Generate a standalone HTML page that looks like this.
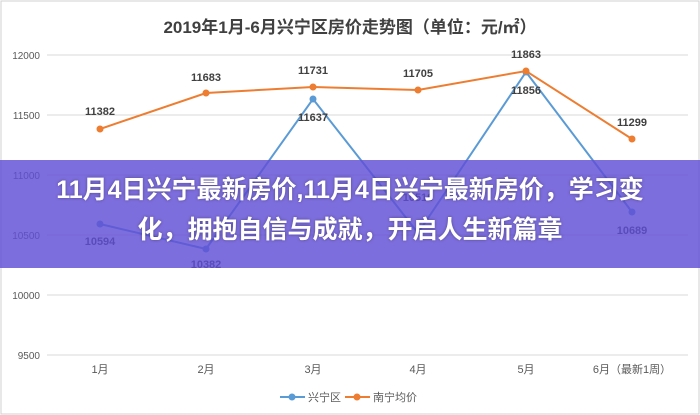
<!DOCTYPE html>
<html><head><meta charset="utf-8"><style>
body{margin:0;width:700px;height:415px;overflow:hidden;background:#fff;font-family:"Liberation Sans","Noto Sans CJK SC",sans-serif;}
.band{position:absolute;left:0;top:160px;width:700px;height:108px;background:rgba(96,78,214,0.82);}
.bt{position:absolute;left:0;top:170px;width:700px;text-align:center;color:#fff;font-weight:bold;font-size:25px;line-height:40px;text-shadow:0 0 3px rgba(0,0,0,.35);white-space:nowrap;}
</style></head><body>
<svg width="700" height="415" style="position:absolute;left:0;top:0" font-family="Liberation Sans,Noto Sans CJK SC,sans-serif">
<rect x="1" y="1" width="698" height="413" fill="#fff" stroke="#d0d0d0"/>
<text x="350" y="33" text-anchor="middle" font-size="17" font-weight="bold" fill="#404040">2019年1月-6月兴宁区房价走势图（单位：元/㎡）</text>
<g stroke="#d9d9d9" stroke-width="1">
<line x1="47" x2="688" y1="55" y2="55"/><line x1="47" x2="688" y1="115" y2="115"/><line x1="47" x2="688" y1="175" y2="175"/><line x1="47" x2="688" y1="235" y2="235"/><line x1="47" x2="688" y1="295" y2="295"/><line x1="47" x2="688" y1="355" y2="355"/>
</g>
<g font-size="10" fill="#595959" text-anchor="end">
<text x="40" y="59">12000</text><text x="40" y="119">11500</text><text x="40" y="179">11000</text><text x="40" y="239">10500</text><text x="40" y="299">10000</text><text x="40" y="359">9500</text>
</g>
<g font-size="11" fill="#595959" text-anchor="middle">
<text x="100" y="373">1月</text><text x="206" y="373">2月</text><text x="313" y="373">3月</text><text x="418" y="373">4月</text><text x="526" y="373">5月</text><text x="632" y="373">6月（最新1周）</text>
</g>
<polyline fill="none" stroke="#5b9bd5" stroke-width="2" points="100,224 206,249 313,99 418,233 526,72 632,212"/>
<g fill="#5b9bd5"><circle cx="100" cy="224" r="3.5"/><circle cx="206" cy="249" r="3.5"/><circle cx="313" cy="99" r="3.5"/><circle cx="418" cy="233" r="3.5"/><circle cx="526" cy="72" r="3.5"/><circle cx="632" cy="212" r="3.5"/></g>
<polyline fill="none" stroke="#ed7d31" stroke-width="2" points="100,129 206,93 313,87 418,90 526,71 632,139"/>
<g fill="#ed7d31"><circle cx="100" cy="129" r="3.5"/><circle cx="206" cy="93" r="3.5"/><circle cx="313" cy="87" r="3.5"/><circle cx="418" cy="90" r="3.5"/><circle cx="526" cy="71" r="3.5"/><circle cx="632" cy="139" r="3.5"/></g>
<g font-size="11" fill="#404040" text-anchor="middle" font-weight="bold">
<text x="100" y="115">11382</text><text x="206" y="81">11683</text><text x="313" y="74">11731</text><text x="418" y="77">11705</text><text x="526" y="58">11863</text><text x="632" y="126">11299</text>
<text x="100" y="245">10594</text><text x="206" y="268">10382</text><text x="313" y="121">11637</text><text x="418" y="201">10516</text><text x="526" y="94">11856</text><text x="632" y="234">10689</text>
</g>
<line x1="280" x2="305" y1="397" y2="397" stroke="#5b9bd5" stroke-width="2"/><circle cx="292" cy="397" r="3.5" fill="#5b9bd5"/>
<text x="308" y="401" font-size="11" fill="#595959">兴宁区</text>
<line x1="345" x2="370" y1="397" y2="397" stroke="#ed7d31" stroke-width="2"/><circle cx="357" cy="397" r="3.5" fill="#ed7d31"/>
<text x="373" y="401" font-size="11" fill="#595959">南宁均价</text>
</svg>
<div class="band"></div>
<div class="bt">11月4日兴宁最新房价,11月4日兴宁最新房价，学习变<br>化，拥抱自信与成就，开启人生新篇章</div>
</body></html>
